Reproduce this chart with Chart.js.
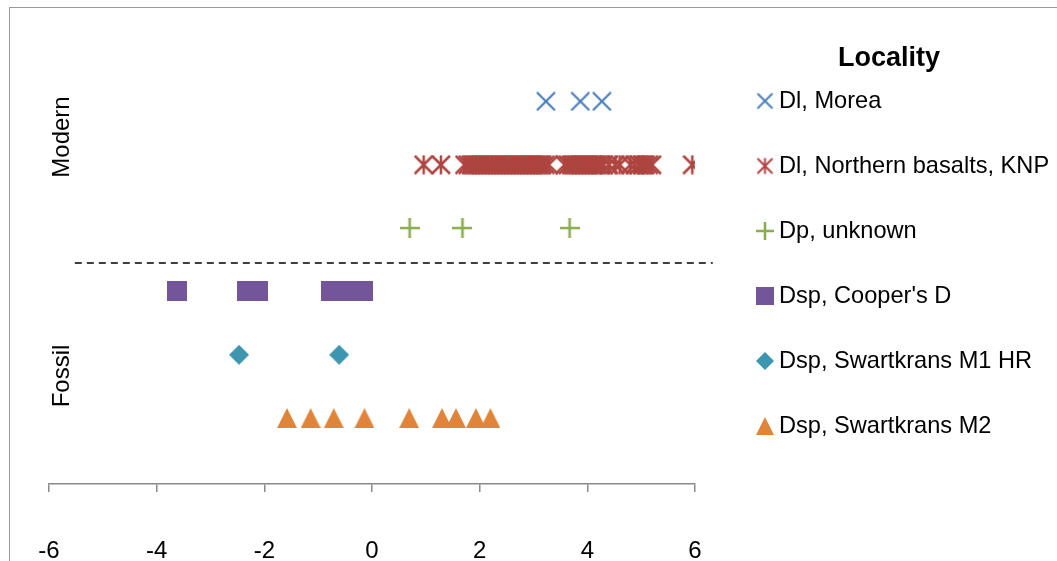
<!DOCTYPE html>
<html>
<head>
<meta charset="utf-8">
<script src="https://cdn.jsdelivr.net/npm/chart.js@4.4.0/dist/chart.umd.min.js"></script>
<style>
html,body{margin:0;padding:0;background:#fff;}
#wrap{position:relative;width:1057px;height:561px;overflow:hidden;font-family:"Liberation Sans",Arial,sans-serif;background:#fff;}
#frame{position:absolute;left:9px;top:7px;width:1100px;height:600px;border:1.5px solid #9a9a9a;box-sizing:border-box;}
#c{position:absolute;left:0;top:0;}
.vlab{position:absolute;font-size:24px;line-height:1;white-space:nowrap;color:#000;transform:translate(-50%,-50%) rotate(-90deg);}
.ltitle{position:absolute;font-size:27px;font-weight:bold;line-height:1;white-space:nowrap;transform:translate(-50%,-50%);color:#000;}
.litem{position:absolute;font-size:23.6px;line-height:1;white-space:nowrap;color:#000;transform:translateY(-50%);}
.lmark{position:absolute;transform:translate(-50%,-50%);}
</style>
</head>
<body>
<div id="wrap">
  <div id="frame"></div>
  <canvas id="c" width="1057" height="561"></canvas>
  <div class="vlab" style="left:61px;top:137px;">Modern</div>
  <div class="vlab" style="left:61px;top:376px;">Fossil</div>
  <div id="legend"></div>
</div>
<script>
// ---- data ----
const seriesNames = ["Dl, Morea", "Dl, Northern basalts, KNP", "Dp, unknown", "Dsp, Cooper's D", "Dsp, Swartkrans M1 HR", "Dsp, Swartkrans M2"];
const rowLevels = [6, 5, 4, 3, 2, 1];
const moreaX = [3.23, 3.87, 4.27];
const knpX = [0.96, 1.28, 1.72, 1.78, 1.84, 1.90, 1.96, 2.02, 2.08, 2.14, 2.20, 2.26, 2.32, 2.38, 2.44, 2.50, 2.56, 2.62, 2.68, 2.74, 2.80, 2.86, 2.92, 2.98, 3.04, 3.10, 3.16, 3.22, 3.28, 3.58, 3.64, 3.70, 3.76, 3.82, 3.88, 3.94, 4.00, 4.06, 4.12, 4.18, 4.24, 4.30, 4.40, 4.52, 4.60, 4.80, 4.88, 4.96, 5.02, 5.08, 5.14, 5.20, 5.95];
const dpX = [0.70, 1.68, 3.67];
const coopersX = [-3.62, -2.32, -2.12, -0.77, -0.62, -0.51, -0.17];
const m1hrX = [-2.47, -0.61];
const m2X = [-1.58, -1.14, -0.71, -0.14, 0.69, 1.30, 1.56, 1.93, 2.20];
const dividerX = [-5.52, 6.33];
const dividerY = 3.45;
const xTickValues = [-6, -4, -2, 0, 2, 4, 6];

const seriesX = [moreaX, knpX, dpX, coopersX, m1hrX, m2X];
const seriesColors = ['#4A7EBB', '#AE4440', '#8AAD4F', '#725699', '#3D96AF', '#E0843A'];
const seriesShapes = ['x', 'star', 'plus', 'square', 'diamond', 'triangle'];

function marker(shape, color, size, lw) {
  const c = document.createElement('canvas');
  c.width = size; c.height = size;
  const g = c.getContext('2d');
  const s = size, m = size / 2;
  g.strokeStyle = color; g.fillStyle = color; g.lineWidth = lw || 2;
  g.beginPath();
  if (shape === 'x' || shape === 'star') {
    g.moveTo(1, 1); g.lineTo(s - 1, s - 1);
    g.moveTo(s - 1, 1); g.lineTo(1, s - 1);
    if (shape === 'star') { g.moveTo(m, 0.5); g.lineTo(m, s - 0.5); }
    g.stroke();
  } else if (shape === 'plus') {
    g.lineWidth = 2.6;
    g.moveTo(0, m); g.lineTo(s, m);
    g.moveTo(m, 0); g.lineTo(m, s);
    g.stroke();
  } else if (shape === 'square') {
    g.fillRect(0, 0, s, s);
  } else if (shape === 'diamond') {
    g.moveTo(m, 0); g.lineTo(s, m); g.lineTo(m, s); g.lineTo(0, m); g.closePath(); g.fill();
  } else if (shape === 'triangle') {
    g.moveTo(m, 0); g.lineTo(s, s); g.lineTo(0, s); g.closePath(); g.fill();
  }
  return c;
}
const plotSizes = [20, 20, 20, 20, 20, 20];
const plotLW = [2.2, 2.5, 2.6, 0, 0, 0];
const legendSizes = [17, 17, 18, 18, 18, 18];

const datasets = seriesNames.map((name, i) => ({
  label: name,
  data: seriesX[i].map(x => ({x: x, y: rowLevels[i]})),
  pointStyle: marker(seriesShapes[i], seriesColors[i], plotSizes[i], plotLW[i]),
  pointRadius: 10,
  borderColor: seriesColors[i],
  backgroundColor: seriesColors[i],
  showLine: false
}));
datasets.push({
  label: 'divider',
  data: dividerX.map(x => ({x: x, y: dividerY})),
  showLine: true,
  borderColor: '#000',
  borderWidth: 1.5,
  borderDash: [7, 5],
  pointRadius: 0,
  clip: false,
  fill: false
});

new Chart(document.getElementById('c'), {
  type: 'scatter',
  data: {datasets: datasets},
  options: {
    responsive: false,
    animation: false,
    events: [],
    layout: {padding: {left: 49, right: 362, top: 38, bottom: 0}},
    plugins: {legend: {display: false}, tooltip: {enabled: false}},
    scales: {
      x: {
        type: 'linear', min: -6, max: 6,
        afterBuildTicks: s => { s.ticks = xTickValues.map(v => ({value: v})); },
        afterFit: s => { s.height = 77; s.paddingLeft = 0; s.paddingRight = 0; },
        ticks: {color: '#000', padding: 36, font: {family: '"Liberation Sans", Arial, sans-serif', size: 24, lineHeight: 1.95}},
        grid: {drawOnChartArea: false, drawTicks: true, tickLength: 8, color: '#8a8a8a', lineWidth: 1.5},
        border: {color: '#8a8a8a', width: 1.5}
      },
      y: {display: false, min: -0.04, max: 7}
    }
  }
});

// legend (HTML, built from the series arrays)
const lg = document.getElementById('legend');
const t = document.createElement('div');
t.className = 'ltitle'; t.style.left = '889px'; t.style.top = '57px'; t.textContent = 'Locality';
lg.appendChild(t);
seriesNames.forEach((name, i) => {
  const cy = 101 + 65 * i;
  const mk = marker(seriesShapes[i], seriesColors[i], legendSizes[i], 2);
  mk.className = 'lmark'; mk.style.left = '765px'; mk.style.top = cy + 'px';
  lg.appendChild(mk);
  const d = document.createElement('div');
  d.className = 'litem'; d.style.left = '779px'; d.style.top = cy + 'px'; d.textContent = name;
  lg.appendChild(d);
});
</script>
</body>
</html>
